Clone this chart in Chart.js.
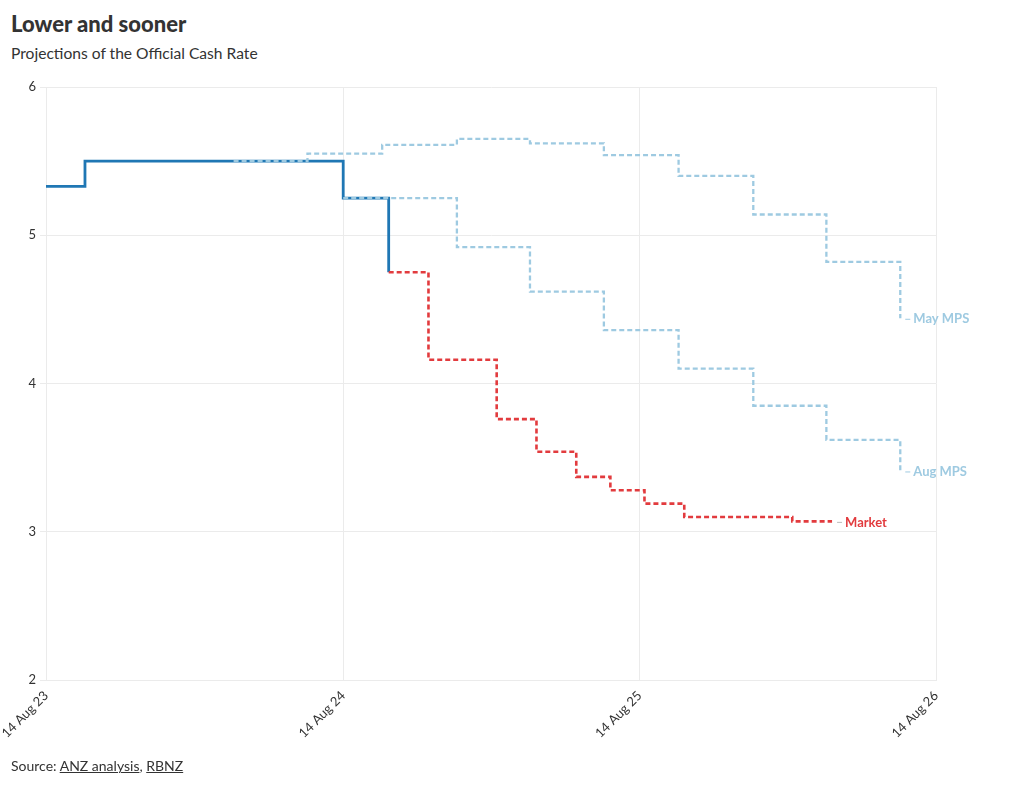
<!DOCTYPE html>
<html>
<head>
<meta charset="utf-8">
<script src="https://cdn.jsdelivr.net/npm/chart.js@4.4.1/dist/chart.umd.min.js"></script>
<style>
  body { margin: 0; background: #fff; font-family: Lato, sans-serif; color: #333; }
  #wrap { position: relative; width: 1020px; height: 785px; }
  #titulo { position: absolute; left: 11px; top: 11px; font-weight: 900; font-size: 22px; line-height: 26px; color: #333; }
  #sub { position: absolute; left: 11px; top: 44px; font-size: 15.6px; line-height: 18px; color: #333; }
  #fonte { position: absolute; left: 11px; top: 757px; font-size: 14px; line-height: 17px; color: #333; }
  #fonte u { text-decoration-thickness: 1px; }
  #preload { position: absolute; left: -999px; font: bold 13px Lato; }
  canvas { position: absolute; left: 0; top: 0; }
</style>
</head>
<body>
<div id="wrap">
  <div id="titulo">Lower and sooner</div>
  <div id="sub">Projections of the Official Cash Rate</div>
  <canvas id="ocrChart" width="1020" height="785"></canvas>
  <div id="fonte">Source: <u>ANZ analysis</u>, <u>RBNZ</u></div>
  <span id="preload">Market May MPS</span>
</div>
<script>
// dados
const dataInicio = '2023-08-14';
const tickDatas = ['2023-08-14', '2024-08-14', '2025-08-14', '2026-08-14'];
const tickLabels = ['14 Aug 23', '14 Aug 24', '14 Aug 25', '14 Aug 26'];

const atualDatas = ['2023-08-14', '2023-10-01', '2024-08-14', '2024-10-09'];
const atualValores = [5.33, 5.50, 5.25, 4.75];

const mercadoDatas = ['2024-10-09', '2024-11-27', '2025-02-19', '2025-04-09', '2025-05-28', '2025-07-09', '2025-08-20', '2025-10-08', '2026-02-18', '2026-04-08'];
const mercadoValores = [4.75, 4.16, 3.76, 3.54, 3.37, 3.28, 3.19, 3.10, 3.07, 3.07];

const augDatas = ['2024-08-14', '2025-01-01', '2025-04-01', '2025-07-01', '2025-10-01', '2026-01-01', '2026-04-01', '2026-07-01'];
const augValores = [5.25, 4.92, 4.62, 4.36, 4.10, 3.85, 3.62, 3.41];

const mayDatas = ['2024-04-01', '2024-07-01', '2024-10-01', '2025-01-01', '2025-04-01', '2025-07-01', '2025-10-01', '2026-01-01', '2026-04-01', '2026-07-01'];
const mayValores = [5.50, 5.55, 5.61, 5.65, 5.62, 5.54, 5.40, 5.14, 4.82, 4.44];

const yTicks = [2, 3, 4, 5, 6];

const paleta = {
    azul: '#1f77b4',
    azulClaro: '#9ecae1',
    vermelho: '#e23b3e',
    grade: '#ebebeb',
    texto: '#333'
};

const dia = s => (Date.parse(s) - Date.parse(dataInicio)) / 86400000;
const pontos = (datas, valores) => datas.map((d, i) => ({ x: dia(d), y: valores[i] }));
const tickDias = tickDatas.map(dia);

// rotulos no fim das linhas
const rotulosFinais = {
    id: 'rotulosFinais',
    afterDatasetsDraw(chart) {
        const ctx = chart.ctx;
        chart.data.datasets.forEach((ds, i) => {
            if (!ds.rotulo) return;
            const meta = chart.getDatasetMeta(i);
            const p = meta.data[meta.data.length - 1];
            ctx.save();
            ctx.strokeStyle = ds.corConector;
            ctx.lineWidth = 1;
            ctx.beginPath();
            ctx.moveTo(p.x + 5, p.y + 1);
            ctx.lineTo(p.x + 10, p.y + 1);
            ctx.stroke();
            ctx.font = 'bold 13px Lato';
            ctx.fillStyle = ds.borderColor;
            ctx.textBaseline = 'middle';
            ctx.fillText(ds.rotulo, p.x + 13, p.y + 1);
            ctx.restore();
        });
    }
};

function desenhar() {
    new Chart(document.getElementById('ocrChart'), {
        type: 'line',
        data: {
            datasets: [
                {
                    label: 'May MPS',
                    rotulo: 'May MPS',
                    corConector: paleta.azulClaro,
                    data: pontos(mayDatas, mayValores),
                    borderColor: paleta.azulClaro,
                    borderWidth: 2.3,
                    borderDash: [5, 3],
                    stepped: 'before',
                    pointRadius: 0,
                    order: 0
                },
                {
                    label: 'Aug MPS',
                    rotulo: 'Aug MPS',
                    corConector: paleta.azulClaro,
                    data: pontos(augDatas, augValores),
                    borderColor: paleta.azulClaro,
                    borderWidth: 2.3,
                    borderDash: [5, 3],
                    stepped: 'before',
                    pointRadius: 0,
                    order: 0
                },
                {
                    label: 'Market',
                    rotulo: 'Market',
                    corConector: '#bbb',
                    data: pontos(mercadoDatas, mercadoValores),
                    borderColor: paleta.vermelho,
                    borderWidth: 2.6,
                    borderDash: [5, 3],
                    stepped: 'before',
                    pointRadius: 0,
                    order: 1
                },
                {
                    label: 'OCR',
                    data: pontos(atualDatas, atualValores),
                    borderColor: paleta.azul,
                    borderWidth: 2.8,
                    stepped: 'before',
                    pointRadius: 0,
                    order: 2
                }
            ]
        },
        options: {
            responsive: false,
            animation: false,
            layout: { padding: { top: 87, left: 0, right: 84, bottom: 35 } },
            plugins: {
                legend: { display: false },
                tooltip: { enabled: false }
            },
            scales: {
                x: {
                    type: 'linear',
                    min: tickDias[0],
                    max: tickDias[tickDias.length - 1],
                    afterBuildTicks: s => { s.ticks = tickDias.map(v => ({ value: v })); },
                    afterFit: s => { s.height = 70; s.paddingLeft = 0; s.paddingRight = 0; },
                    grid: { color: paleta.grade, drawTicks: false },
                    border: { color: paleta.grade },
                    ticks: {
                        autoSkip: false,
                        minRotation: 45,
                        maxRotation: 45,
                        padding: 8,
                        color: paleta.texto,
                        font: { family: 'Lato', size: 13 },
                        callback: (v, i) => tickLabels[i]
                    }
                },
                y: {
                    min: yTicks[0],
                    max: yTicks[yTicks.length - 1],
                    afterBuildTicks: s => { s.ticks = yTicks.map(v => ({ value: v })); },
                    afterFit: s => { s.width = 46; },
                    grid: { color: paleta.grade, tickLength: 6, tickColor: paleta.grade },
                    border: { color: paleta.grade },
                    ticks: {
                        padding: 4,
                        color: paleta.texto,
                        font: { family: 'Lato', size: 13 }
                    }
                }
            }
        },
        plugins: [rotulosFinais]
    });
}

document.fonts.load('bold 13px Lato').then(desenhar, desenhar);
</script>
</body>
</html>
